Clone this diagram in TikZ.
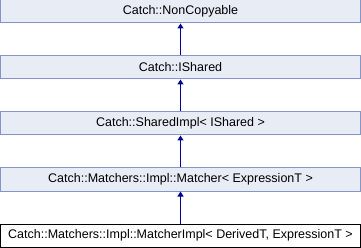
\documentclass[tikz,border=0pt]{standalone}
\usepackage{fontspec}
\setmainfont{Liberation Sans}
\usetikzlibrary{arrows.meta}
\definecolor{boxfill}{RGB}{232,236,245}
\definecolor{boxline}{RGB}{132,150,200}
\definecolor{arrowcol}{RGB}{0,0,150}
\tikzset{
  cls/.style={draw=boxline, fill=boxfill, line width=1pt, minimum width=360pt, minimum height=23pt, inner sep=0pt, font=\fontsize{12.5}{14}\selectfont},
  clscur/.style={cls, draw=black, fill=white},
  inh/.style={draw=arrowcol, line width=1pt, -{Triangle[length=5pt,width=6pt]}}
}
\begin{document}
\begin{tikzpicture}[x=1pt,y=-1pt]
\useasboundingbox (0,0) rectangle (361,248);
\node[cls] (a) at (180.5,11.5) {Catch::NonCopyable};
\node[cls] (b) at (180.5,67.5) {Catch::IShared};
\node[cls] (c) at (180.5,123.5) {Catch::SharedImpl< IShared >};
\node[cls] (d) at (180.5,179.5) {Catch::Matchers::Impl::Matcher< ExpressionT >};
\node[clscur] (e) at (180.5,235.5) {Catch::Matchers::Impl::MatcherImpl< DerivedT, ExpressionT >};
\draw[inh] (b.north) -- (a.south);
\draw[inh] (c.north) -- (b.south);
\draw[inh] (d.north) -- (c.south);
\draw[inh] (e.north) -- (d.south);
\end{tikzpicture}
\end{document}
